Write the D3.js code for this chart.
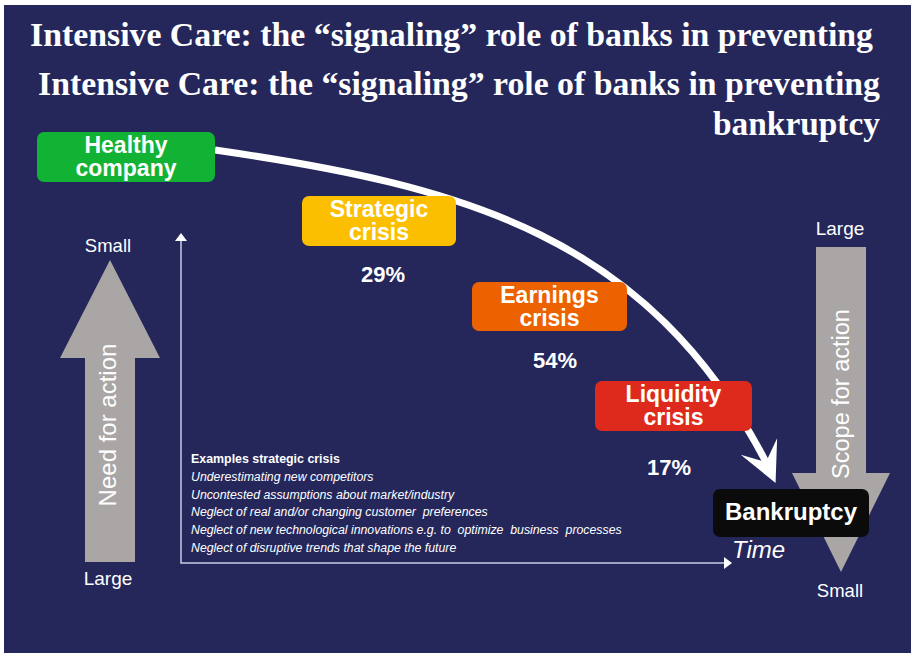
<!DOCTYPE html>
<html>
<head>
<meta charset="utf-8">
<script src="https://cdn.jsdelivr.net/npm/d3@7"></script>
<style>
  html, body { margin: 0; padding: 0; background: #ffffff; }
  svg { display: block; }
</style>
</head>
<body>
<div id="chart"></div>
<script>
// ---------------- data ----------------
const titleLines = [
  "Intensive Care: the \u201Csignaling\u201D role of banks in preventing",
  "Intensive Care: the \u201Csignaling\u201D role of banks in preventing",
  "bankruptcy"
];
const stages = ["Healthy company", "Strategic crisis", "Earnings crisis", "Liquidity crisis", "Bankruptcy"];
const stageLines = [["Healthy", "company"], ["Strategic", "crisis"], ["Earnings", "crisis"], ["Liquidity", "crisis"], ["Bankruptcy"]];
const shares = [null, 29, 54, 17, null];
const exampleHeader = "Examples strategic crisis";
const examples = [
  "Underestimating new competitors",
  "Uncontested assumptions about market/industry",
  "Neglect of real and/or changing customer  preferences",
  "Neglect of new technological innovations e.g. to  optimize  business  processes",
  "Neglect of disruptive trends that shape the future"
];
const needLabels = ["Small", "Need for action", "Large"];
const scopeLabels = ["Large", "Scope for action", "Small"];
const timeLabel = "Time";

// ---------------- styles / layout ----------------
const W = 911, H = 653;
const navy = "#25275b";
const grey = "#a9a6a5";
const stageColor = d3.scaleOrdinal().domain(stages)
  .range(["#12b234", "#fcbf00", "#ec6100", "#dd2a1c", "#0b0b0b"]);
const boxLayout = [
  { x: 37,  y: 132, w: 178, h: 50 },
  { x: 302, y: 196, w: 154, h: 50 },
  { x: 472, y: 282, w: 155, h: 49 },
  { x: 595, y: 381, w: 157, h: 50 },
  { x: 713, y: 489, w: 156, h: 48 }
];
const shareLayout = [null, { x: 383, y: 282 }, { x: 555, y: 368 }, { x: 669, y: 475 }, null];

const svg = d3.select("#chart").append("svg").attr("width", W).attr("height", H);
svg.append("rect").attr("x", 4).attr("y", 5).attr("width", W - 4).attr("height", H - 5).attr("fill", navy);

// ---------------- title ----------------
const titleLayout = [
  { x: 30, y: 46, w: 843 },
  { x: 38, y: 95, w: 842 },
  { x: 713, y: 135, w: 167 }
];
svg.append("g").selectAll("text").data(titleLines).join("text")
  .attr("x", (d, i) => titleLayout[i].x)
  .attr("y", (d, i) => titleLayout[i].y)
  .attr("textLength", (d, i) => titleLayout[i].w)
  .attr("lengthAdjust", "spacingAndGlyphs")
  .attr("font-family", "'Liberation Serif', 'DejaVu Serif', serif")
  .attr("font-weight", "bold")
  .attr("font-size", 34)
  .attr("fill", "#ffffff")
  .text(d => d);

// ---------------- axes (time / vertical) ----------------
const ax = d3.scaleLinear().domain([0, 1]).range([181, 732]);
const ay = d3.scaleLinear().domain([0, 1]).range([563, 233]);
const axisColor = "#c8cbe6";
const axG = svg.append("g");
axG.append("path")
  .attr("d", d3.line()([[ax(0), ay(1) + 6], [ax(0), ay(0)], [ax(1) - 6, ay(0)]]))
  .attr("fill", "none").attr("stroke", axisColor).attr("stroke-width", 1.5);
axG.append("path")
  .attr("d", d3.line()([[ax(0), ay(1)], [ax(0) - 6, ay(1) + 8], [ax(0) + 6, ay(1) + 8]]) + "Z")
  .attr("fill", "#ffffff");
axG.append("path")
  .attr("d", d3.line()([[ax(1), ay(0)], [ax(1) - 8, ay(0) - 6], [ax(1) - 8, ay(0) + 6]]) + "Z")
  .attr("fill", "#ffffff");
svg.append("text").attr("x", ax(1)).attr("y", 558)
  .attr("font-family", "'Liberation Sans', Arial, sans-serif")
  .attr("font-style", "italic").attr("font-size", 24).attr("fill", "#ffffff")
  .text(timeLabel);

// ---------------- grey arrows ----------------
function blockArrow(cx, tipY, headY, endY, headHalf, shaftHalf) {
  return d3.line()([
    [cx, tipY], [cx + headHalf, headY], [cx + shaftHalf, headY], [cx + shaftHalf, endY],
    [cx - shaftHalf, endY], [cx - shaftHalf, headY], [cx - headHalf, headY]
  ]) + "Z";
}
const sans = "'Liberation Sans', Arial, sans-serif";
// Need for action (up)
svg.append("path").attr("d", blockArrow(110, 260, 358, 562, 50, 25)).attr("fill", grey);
svg.append("text").attr("x", 108).attr("y", 252).attr("text-anchor", "middle")
  .attr("font-family", sans).attr("font-size", 18.5).attr("fill", "#ffffff").text(needLabels[0]);
svg.append("text").attr("x", 108).attr("y", 585).attr("text-anchor", "middle")
  .attr("font-family", sans).attr("font-size", 19).attr("fill", "#ffffff").text(needLabels[2]);
svg.append("text").attr("transform", "translate(116,425) rotate(-90)").attr("text-anchor", "middle")
  .attr("font-family", sans).attr("font-size", 24).attr("fill", "#ffffff").text(needLabels[1]);
// Scope for action (down)
svg.append("path").attr("d", blockArrow(841, 572, 473, 247, 49, 25)).attr("fill", grey);
svg.append("text").attr("x", 840).attr("y", 235).attr("text-anchor", "middle")
  .attr("font-family", sans).attr("font-size", 19).attr("fill", "#ffffff").text(scopeLabels[0]);
svg.append("text").attr("x", 840).attr("y", 597).attr("text-anchor", "middle")
  .attr("font-family", sans).attr("font-size", 18.5).attr("fill", "#ffffff").text(scopeLabels[2]);
svg.append("text").attr("transform", "translate(849,394) rotate(-90)").attr("text-anchor", "middle")
  .attr("font-family", sans).attr("font-size", 23.5).attr("fill", "#ffffff").text(scopeLabels[1]);

// ---------------- curve ----------------
const p0 = [215, 150], p1 = [465, 186], p2 = [648, 236], p3 = [766, 462];
const curve = d3.path();
curve.moveTo(...p0);
curve.bezierCurveTo(...p1, ...p2, ...p3);
svg.append("path").attr("d", curve.toString())
  .attr("fill", "none").attr("stroke", "#ffffff").attr("stroke-width", 7);
// stealth arrow head aligned with the end tangent
const ang = Math.atan2(p3[1] - p2[1], p3[0] - p2[0]) * 180 / Math.PI;
svg.append("path")
  .attr("d", d3.line()([[23, 0], [-17, -20], [0, 0], [-17, 20]]) + "Z")
  .attr("transform", `translate(${p3[0]},${p3[1]}) rotate(${ang + 3})`)
  .attr("fill", "#ffffff");

// ---------------- stage boxes ----------------
const boxes = svg.append("g").selectAll("g").data(stages).join("g")
  .attr("transform", (d, i) => `translate(${boxLayout[i].x},${boxLayout[i].y})`);
boxes.append("rect")
  .attr("width", (d, i) => boxLayout[i].w).attr("height", (d, i) => boxLayout[i].h)
  .attr("rx", 7).attr("fill", d => stageColor(d));
boxes.each(function (d, i) {
  const lines = stageLines[i];
  const b = boxLayout[i];
  d3.select(this).selectAll("text").data(lines).join("text")
    .attr("x", b.w / 2)
    .attr("y", (t, j) => lines.length === 1 ? 31 : 20.5 + j * 23.5)
    .attr("text-anchor", "middle")
    .attr("font-family", sans).attr("font-weight", "bold").attr("font-size", lines.length === 1 ? 24 : 23)
    .attr("fill", "#ffffff").text(t => t);
});

// ---------------- shares ----------------
svg.append("g").selectAll("text").data(shares.map((v, i) => ({ v, i })).filter(d => d.v !== null)).join("text")
  .attr("x", d => shareLayout[d.i].x).attr("y", d => shareLayout[d.i].y)
  .attr("text-anchor", "middle")
  .attr("font-family", sans).attr("font-weight", "bold").attr("font-size", 22)
  .attr("fill", "#ffffff").text(d => d3.format("d")(d.v) + "%");

// ---------------- examples ----------------
const ex = svg.append("g").attr("transform", "translate(191,463)");
ex.append("text").attr("font-family", sans).attr("font-weight", "bold").attr("font-size", 12.4)
  .attr("fill", "#ffffff").text(exampleHeader);
ex.selectAll("text.item").data(examples).join("text").attr("class", "item")
  .attr("y", (d, i) => 17.8 * (i + 1))
  .attr("font-family", sans).attr("font-style", "italic").attr("font-size", 12.3)
  .attr("fill", "#ffffff").style("white-space", "pre").text(d => d);
</script>
</body>
</html>
